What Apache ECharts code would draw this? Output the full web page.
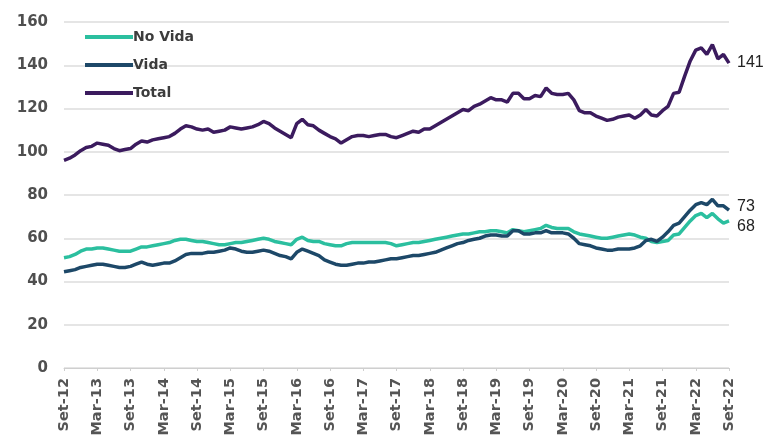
<!DOCTYPE html>
<html>
<head>
<meta charset="utf-8">
<script src="https://cdn.jsdelivr.net/npm/echarts@6/dist/echarts.min.js"></script>
<style>
  html, body { margin: 0; padding: 0; background: #fff; }
  #chart { width: 772px; height: 444px; }
</style>
</head>
<body>
<div id="chart"></div>
<script>
// months Set-12 .. Set-22
const monthNames = ['Ene', 'Feb', 'Mar', 'Abr', 'May', 'Jun', 'Jul', 'Ago', 'Set', 'Oct', 'Nov', 'Dic']
let categories = []
for (let i = 0; i < 121; i++) {
    let m = (8 + i) % 12
    let y = 12 + Math.floor((8 + i) / 12)
    categories.push(monthNames[m] + '-' + y)
}

const noVida = [
    51, 51.5, 52.5, 54, 55, 55, 55.5, 55.5, 55, 54.5, 54, 54, 54, 55, 56, 56, 56.5, 57, 57.5, 58,
    59, 59.5, 59.5, 59, 58.5, 58.5, 58, 57.5, 57, 57, 57.5, 58, 58, 58.5, 59, 59.5, 60, 59.5, 58.5, 58,
    57.5, 57, 59.5, 60.5, 59, 58.5, 58.5, 57.5, 57, 56.5, 56.5, 57.5, 58, 58, 58, 58, 58, 58, 58, 57.5,
    56.5, 57, 57.5, 58, 58, 58.5, 59, 59.5, 60, 60.5, 61, 61.5, 62, 62, 62.5, 63, 63, 63.5, 63.5, 63,
    62.5, 64, 63.5, 63, 63.5, 64, 64.5, 66, 65, 64.5, 64.5, 64.5, 63, 62, 61.5, 61, 60.5, 60, 60, 60.5,
    61, 61.5, 62, 61.5, 60.5, 60, 58.5, 58, 58.5, 59, 61.5, 62, 65, 68, 70.5, 71.5, 69.5, 71.5, 69, 67,
    68
]

const vida = [
    44.5, 45, 45.5, 46.5, 47, 47.5, 48, 48, 47.5, 47, 46.5, 46.5, 47, 48, 49, 48, 47.5, 48, 48.5, 48.5,
    49.5, 51, 52.5, 53, 53, 53, 53.5, 53.5, 54, 54.5, 55.5, 55, 54, 53.5, 53.5, 54, 54.5, 54, 53, 52,
    51.5, 50.5, 53.5, 55, 54, 53, 52, 50, 49, 48, 47.5, 47.5, 48, 48.5, 48.5, 49, 49, 49.5, 50, 50.5,
    50.5, 51, 51.5, 52, 52, 52.5, 53, 53.5, 54.5, 55.5, 56.5, 57.5, 58, 59, 59.5, 60, 61, 61.5, 61.5, 61,
    61, 63.5, 63.5, 62, 62, 62.5, 62.5, 63.5, 62.5, 62.5, 62.5, 62, 60, 57.5, 57, 56.5, 55.5, 55, 54.5, 54.5,
    55, 55, 55, 55.5, 56.5, 59, 59.5, 58.5, 60.5, 63, 66, 67, 70, 73, 75.5, 76.5, 75.5, 78, 75, 75,
    73
]

const total = [
    96, 97, 98.5, 100.5, 102, 102.5, 104, 103.5, 103, 101.5, 100.5, 101, 101.5, 103.5, 105, 104.5, 105.5, 106, 106.5, 107,
    108.5, 110.5, 112, 111.5, 110.5, 110, 110.5, 109, 109.5, 110, 111.5, 111, 110.5, 111, 111.5, 112.5, 114, 113, 111, 109.5,
    108, 106.5, 113, 115, 112.5, 112, 110, 108.5, 107, 106, 104, 105.5, 107, 107.5, 107.5, 107, 107.5, 108, 108, 107,
    106.5, 107.5, 108.5, 109.5, 109, 110.5, 110.5, 112, 113.5, 115, 116.5, 118, 119.5, 119, 121, 122, 123.5, 125, 124, 124,
    123, 127, 127, 124.5, 124.5, 126, 125.5, 129.5, 127, 126.5, 126.5, 127, 124, 119, 118, 118, 116.5, 115.5, 114.5, 115,
    116, 116.5, 117, 115.5, 117, 119.5, 117, 116.5, 119, 121, 127, 127.5, 135, 142, 147, 148, 145, 149.5, 143, 145,
    141
]

const yTicks = { min: 0, max: 160, interval: 20 }

const colors = { 'No Vida': '#2bbf9f', 'Vida': '#1d4868', 'Total': '#3b1b5e' }
const labelFont = 'DejaVu Sans'

function makeSeries(name, data, offset) {
    return {
        name: name,
        type: 'line',
        data: data,
        showSymbol: false,
        symbol: 'none',
        smooth: false,
        lineStyle: { width: 3.5, color: colors[name] },
        itemStyle: { color: colors[name] },
        endLabel: {
            show: true,
            formatter: function (p) { return Math.round(p.value) },
            color: '#222',
            fontSize: 16,
            fontFamily: 'Liberation Sans',
            distance: 8,
            offset: offset
        }
    }
}

var chart = echarts.init(document.getElementById('chart'))
chart.setOption({
    animation: false,
    backgroundColor: '#fff',
    grid: { left: 64, right: 43, top: 22, bottom: 76 },
    legend: {
        orient: 'vertical',
        left: 80,
        top: 25,
        itemWidth: 48,
        itemHeight: 4,
        itemGap: 14,
        icon: 'rect',
        data: ['No Vida', 'Vida', 'Total'],
        textStyle: { fontFamily: labelFont, fontWeight: 'bold', fontSize: 14, color: '#3c3c3c', padding: [0, 0, 0, -5] }
    },
    xAxis: {
        type: 'category',
        boundaryGap: false,
        data: categories,
        axisLine: { lineStyle: { color: '#cfcfcf' } },
        axisTick: { interval: 5, length: 3, lineStyle: { color: '#cfcfcf' } },
        axisLabel: {
            interval: 5,
            rotate: 90,
            margin: 10,
            fontFamily: labelFont,
            fontWeight: 'bold',
            fontSize: 14.5,
            color: '#555'
        }
    },
    yAxis: {
        type: 'value',
        min: yTicks.min,
        max: yTicks.max,
        interval: yTicks.interval,
        axisLine: { show: false },
        axisTick: { show: false },
        splitLine: { lineStyle: { color: '#dcdcdc', width: 1.5 } },
        axisLabel: {
            margin: 16,
            fontFamily: labelFont,
            fontWeight: 'bold',
            fontSize: 15,
            color: '#4f4f4f'
        }
    },
    series: [
        makeSeries('No Vida', noVida, [0, 6]),
        makeSeries('Vida', vida, [0, -4]),
        makeSeries('Total', total, [0, 0])
    ]
})
</script>
</body>
</html>
